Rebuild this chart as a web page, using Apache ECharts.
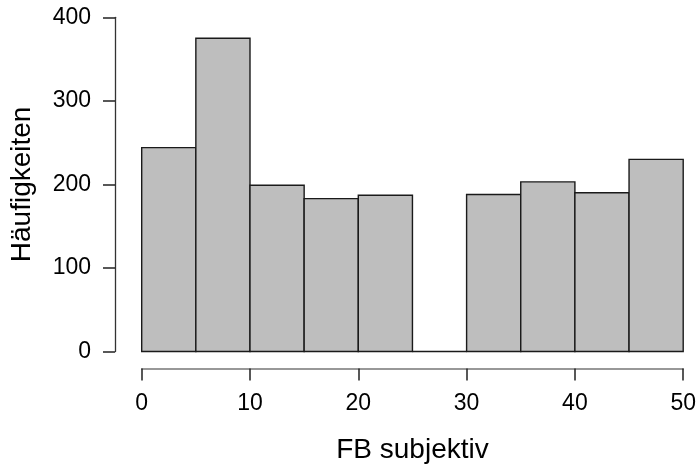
<!DOCTYPE html>
<html>
<head>
<meta charset="utf-8">
<script src="https://cdn.jsdelivr.net/npm/echarts@6/dist/echarts.min.js"></script>
<style>html,body{margin:0;padding:0;background:#fff}#c{width:699px;height:471px}</style>
</head>
<body>
<div id="c"></div>
<script>
var binStarts = [0, 5, 10, 15, 20, 25, 30, 35, 40, 45];
var binEnds   = [5, 10, 15, 20, 25, 30, 35, 40, 45, 50];
var counts    = [244, 375, 199, 183, 187, 0, 188, 203, 190, 230];
var xTicks = [0, 10, 20, 30, 40, 50];
var yTicks = [0, 100, 200, 300, 400];
var xTitle = 'FB subjektiv';
var yTitle = 'Häufigkeiten';

var data = binStarts.map(function (s, i) { return [s, binEnds[i], counts[i]]; });
var font = '"Liberation Sans", Arial, sans-serif';
var chart = echarts.init(document.getElementById('c'), null, {renderer: 'canvas'});
chart.setOption({
  animation: false,
  backgroundColor: '#fff',
  grid: {left: 141.7, right: 15.8, top: 17.3, bottom: 119.5},
  xAxis: {
    type: 'value', min: xTicks[0], max: xTicks[xTicks.length - 1], interval: 10, offset: 17,
    name: xTitle, nameLocation: 'middle', nameGap: 68,
    nameTextStyle: {fontFamily: font, fontSize: 28, color: '#000'},
    axisLine: {show: true, onZero: false, lineStyle: {color: '#777', width: 1.5}},
    axisTick: {show: true, length: 12, lineStyle: {color: '#222', width: 1.5}},
    axisLabel: {fontFamily: font, fontSize: 23, color: '#000', margin: 24},
    splitLine: {show: false}
  },
  yAxis: {
    type: 'value', min: yTicks[0], max: yTicks[yTicks.length - 1], interval: 100, offset: 26.7,
    name: yTitle, nameLocation: 'middle', nameGap: 79,
    nameTextStyle: {fontFamily: font, fontSize: 28, color: '#000'},
    axisLine: {show: true, onZero: false, lineStyle: {color: '#333', width: 1.3}},
    axisTick: {show: true, length: 12, lineStyle: {color: '#222', width: 1.5}},
    axisLabel: {fontFamily: font, fontSize: 23, color: '#000', margin: 24},
    splitLine: {show: false}
  },
  series: [{
    type: 'custom',
    data: data,
    encode: {x: [0, 1], y: 2},
    renderItem: function (params, api) {
      var p0 = api.coord([api.value(0), 0]);
      var p1 = api.coord([api.value(1), api.value(2)]);
      return {
        type: 'rect',
        shape: {x: p0[0], y: p1[1], width: p1[0] - p0[0], height: p0[1] - p1[1]},
        style: {fill: '#BEBEBE', stroke: '#1a1a1a', lineWidth: 1.4}
      };
    }
  }]
});
</script>
</body>
</html>
